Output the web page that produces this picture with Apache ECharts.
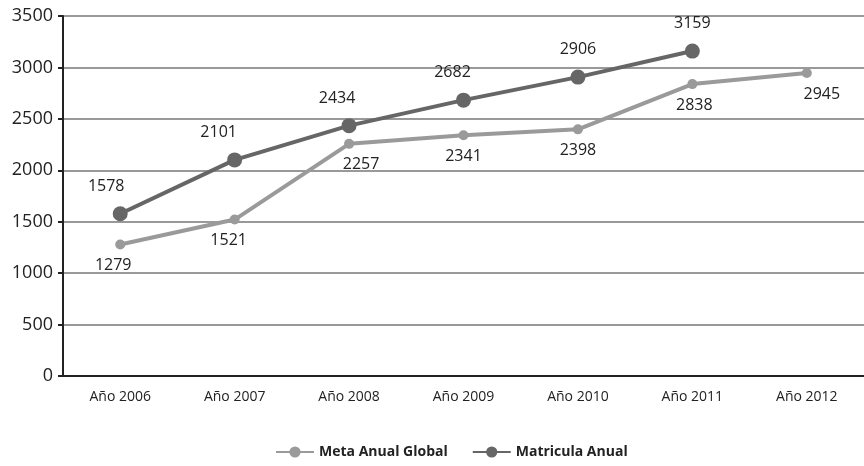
<!DOCTYPE html>
<html>
<head>
<meta charset="utf-8">
<script src="https://cdn.jsdelivr.net/npm/echarts@6/dist/echarts.min.js"></script>
<style>
  html, body { margin: 0; padding: 0; background: #fff; }
  #chart { width: 864px; height: 466px; }
</style>
</head>
<body>
<div id="chart"></div>
<script>
const years = ['Año 2006', 'Año 2007', 'Año 2008', 'Año 2009', 'Año 2010', 'Año 2011', 'Año 2012']
const metaAnual = [1279, 1521, 2257, 2341, 2398, 2838, 2945]
const matricula = [1578, 2101, 2434, 2682, 2906, 3159, null]

// label nudges (px) so the numbers sit where the original put them
const metaOffsets = [[-7, 0], [-6, 0], [12, 0], [0, 0], [0, 0], [2, 0], [15, 0]]
const matOffsets = [[-14, 0], [-16, 0], [-12, 0], [-11, 0], [0, 0], [0, 0], [0, 0]]

const chart = echarts.init(document.getElementById('chart'))

chart.setOption({
  backgroundColor: '#FFFFFF',
  animation: false,
  textStyle: { fontFamily: 'Open Sans' },
  grid: { left: 63, right: 0, top: 16, bottom: 90 },
  legend: {
    bottom: 2,
    left: 270,
    itemWidth: 38,
    itemHeight: 14,
    itemGap: 24,
    textStyle: { fontSize: 14, fontWeight: 'bold', color: '#222' },
    data: ['Meta Anual Global', 'Matricula Anual']
  },
  xAxis: {
    type: 'category',
    data: years,
    boundaryGap: true,
    axisLine: { lineStyle: { color: '#222', width: 2 } },
    axisTick: { length: 10, lineStyle: { color: '#222', width: 2 } },
    axisLabel: { fontSize: 14, color: '#222', margin: 14 }
  },
  yAxis: {
    type: 'value',
    min: 0,
    max: 3500,
    interval: 500,
    axisLine: { show: true, lineStyle: { color: '#222', width: 2 } },
    axisTick: { show: true, length: 5, lineStyle: { color: '#222', width: 2 } },
    axisLabel: { fontSize: 18, color: '#222', margin: 10, formatter: v => String(v) },
    splitLine: { lineStyle: { color: '#999', width: 2 } }
  },
  series: [
    {
      name: 'Meta Anual Global',
      type: 'line',
      data: metaAnual.map((v, i) => ({ value: v, label: { offset: metaOffsets[i] } })),
      symbol: 'circle',
      symbolSize: 10,
      itemStyle: { color: '#9a9a9a' },
      lineStyle: { color: '#9a9a9a', width: 4 },
      label: { show: true, position: 'bottom', distance: 8, fontSize: 16, color: '#222' },
      z: 2
    },
    {
      name: 'Matricula Anual',
      type: 'line',
      data: matricula.map((v, i) => ({ value: v, label: { offset: matOffsets[i] } })),
      symbol: 'circle',
      symbolSize: 15,
      itemStyle: { color: '#666666' },
      lineStyle: { color: '#666666', width: 4 },
      label: { show: true, position: 'top', distance: 12, fontSize: 16, color: '#222' },
      z: 3
    }
  ]
})
</script>
</body>
</html>
